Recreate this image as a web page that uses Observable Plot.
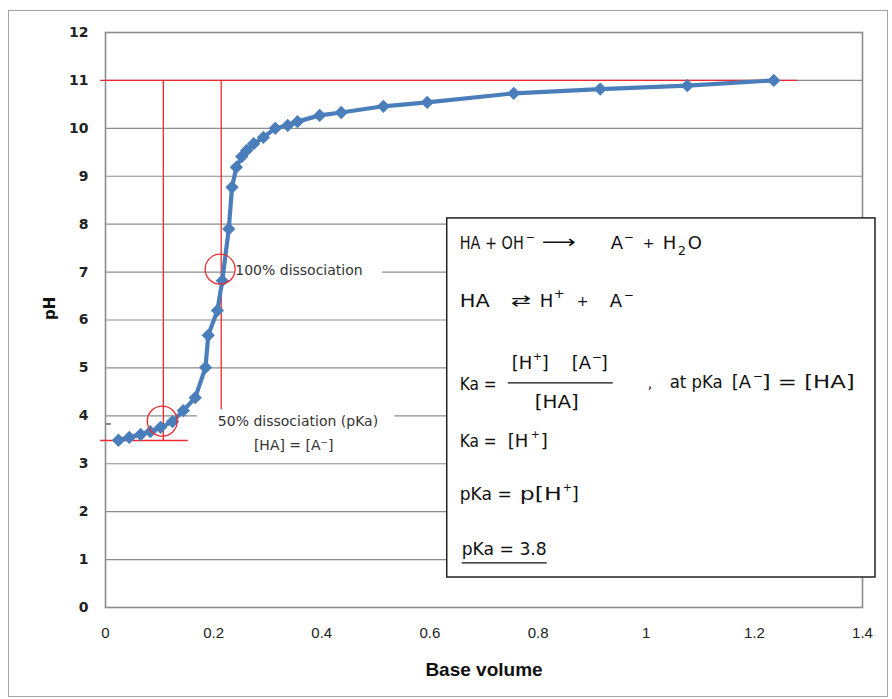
<!DOCTYPE html>
<html><head><meta charset="utf-8">
<script src="https://cdn.jsdelivr.net/npm/d3@7"></script>
<script src="https://cdn.jsdelivr.net/npm/@observablehq/plot@0.6"></script>
<style>
body{margin:0;background:#fff}
#wrap{position:relative;width:892px;height:699px}
#wrap svg{position:absolute;left:0;top:0}
#border{position:absolute;left:8px;top:10px;width:880px;height:687px;border:1.5px solid #a3a3a3;box-sizing:border-box;pointer-events:none}
</style></head>
<body>
<div id="wrap"><div id="border"></div></div>
<script>
// ---- data ----
const baseVolume = [0.024,0.044,0.065,0.083,0.102,0.124,0.144,0.166,0.185,0.190,0.207,0.216,0.228,0.234,0.242,0.252,0.261,0.274,0.292,0.314,0.337,0.355,0.396,0.436,0.514,0.595,0.755,0.915,1.076,1.236];
const pHValues   = [3.49,3.55,3.61,3.67,3.76,3.88,4.11,4.38,5.01,5.68,6.20,6.82,7.90,8.77,9.19,9.41,9.54,9.68,9.81,10.00,10.06,10.14,10.27,10.33,10.46,10.54,10.73,10.82,10.89,11.00];
const xTicks = [0,0.2,0.4,0.6,0.8,1,1.2,1.4];
const yTicks = [0,1,2,3,4,5,6,7,8,9,10,11,12];
const redHLines = [{y:11, x1:-0.009, x2:1.28},{y:3.485, x1:-0.009, x2:0.153}];
const redVLines = [{x:0.107, y1:3.485, y2:11},{x:0.214, y1:4.12, y2:11}];
const redCircles = [{x:0.105, y:3.89},{x:0.212, y:7.06}];
const labelBoxes = [{x1:0.239, x2:0.512, y1:6.75, y2:7.35},{x1:0.17, x2:0.535, y1:3.1, y2:4.12}];
const startLabels = [{x:0.24, y:7.04, text:"100% dissociation"}];
const middleLabels = [
  {x:0.356, y:3.88, text:"50% dissociation (pKa)"},
  {x:0.348, y:3.38, text:"[HA] = [A\u207B]"}
];
const eqBox = [{x1:0.632, x2:1.424, y1:0.626, y2:8.12}];
const pkaMark = [{y:3.83, x1:0.002, x2:0.011}];

const curve = baseVolume.map((v,i)=>({v, ph:pHValues[i]}));
const blue = "#4a7ebb", red = "#ee2a2f", grid = "#8c8c8c";

const plot = Plot.plot({
  width:892, height:699,
  marginLeft:105, marginRight:30, marginTop:32, marginBottom:92,
  x:{domain:[0,1.4]},
  y:{domain:[0,12]},
  style:{background:"transparent"},
  marks:[
    Plot.ruleY(yTicks.filter(d=>d>0 && d<12), {stroke:grid, strokeWidth:1.2}),
    Plot.frame({stroke:grid, strokeWidth:1.6}),
    Plot.ruleY(redHLines, {y:"y", x1:"x1", x2:"x2", stroke:red, strokeWidth:1.3}),
    Plot.ruleX(redVLines, {x:"x", y1:"y1", y2:"y2", stroke:red, strokeWidth:1.3}),
    Plot.ruleY(pkaMark, {y:"y", x1:"x1", x2:"x2", stroke:"#111", strokeWidth:1}),
    Plot.rect(labelBoxes, {x1:"x1", x2:"x2", y1:"y1", y2:"y2", fill:"white"}),
    Plot.rect(eqBox, {x1:"x1", x2:"x2", y1:"y1", y2:"y2", fill:"white", stroke:"#222", strokeWidth:1.5}),
    Plot.line(curve, {x:"v", y:"ph", stroke:blue, strokeWidth:4.2}),
    Plot.dot(curve, {x:"v", y:"ph", symbol:"diamond2", r:6, fill:blue}),
    Plot.dot(redCircles, {x:"x", y:"y", r:15, stroke:red, fill:"none", strokeWidth:1.3}),
    Plot.text(startLabels, {x:"x", y:"y", text:"text", textAnchor:"start", fontSize:14, fill:"#333", fontFamily:"DejaVu Sans"}),
    Plot.text(middleLabels, {x:"x", y:"y", text:"text", textAnchor:"middle", fontSize:14, fill:"#333", fontFamily:"DejaVu Sans"}),
    Plot.axisY({ticks:yTicks, tickSize:0, tickPadding:17, label:null, fontSize:14, fontWeight:"bold", fontFamily:"DejaVu Sans", fill:"#222"}),
    Plot.axisX({ticks:xTicks, tickSize:0, tickPadding:20, label:null, tickFormat:d=>String(d), fontSize:15, fontFamily:"Liberation Sans Narrow, Liberation Sans", fill:"#222"}),
    Plot.text(["Base volume"], {frameAnchor:"bottom", dy:68, fontSize:19, fontWeight:"bold", fontFamily:"Liberation Sans Narrow, Liberation Sans", fill:"#111"}),
    Plot.text(["pH"], {frameAnchor:"left", dx:-55, rotate:-90, fontSize:15, fontWeight:"bold", fontFamily:"DejaVu Sans", fill:"#111"})
  ]
});
document.getElementById("wrap").prepend(plot);

// ---- equations inside the box ----
const sx = plot.scale("x"), sy = plot.scale("y");
const bx = sx.apply(eqBox[0].x1), by = sy.apply(eqBox[0].y2);
const g = d3.select(plot).append("g").attr("font-family","DejaVu Sans").attr("fill","#111").attr("text-anchor","start");
// pieces: [dx from box left, dy from box top, text, size, textLength]
const pieces = [
  [13,31,"HA + OH",18,64],[79,23,"\u2212",11],[95,30,"\u27F6",18,34],[164,31,"A",18],[177,23,"\u2212",12],[196,30,"+",14],[216,31,"H",18],[231,37,"2",13],[241,31,"O",18],
  [13,89,"HA",18,30],[64,88,"\u21C4",16,20],[93,89,"H",18],[107,80,"+",13],[130,88,"+",14],[163,89,"A",18],[177,81,"\u2212",12],
  [13,172,"Ka =",18,37],[65,151,"[H",18],[86,142,"+",11],[95,151,"]",18],[125,151,"[A",18],[145,143,"\u2212",12],[154,151,"]",18],[88,190,"[HA]",18,44],
  [201,170,",",14],[223,170,"at pKa",17,53],[285,170,"[A",18],[306,162,"\u2212",12],[315,170,"] = [HA]",18,93],
  [13,229,"Ka =",18,37],[61,229,"[H",18],[84,220,"+",11],[94,229,"]",18],
  [13,282,"pKa =",18,52],[73,282,"p[H",18,42],[116,273,"+",11],[125,282,"]",18],
  [15,337,"pKa = 3.8",18,85]
];
pieces.forEach(([dx,dy,t,s,len])=>{
  const el = g.append("text").attr("x",bx+dx).attr("y",by+dy).attr("font-size",s).text(t);
  if(len) el.attr("textLength",len).attr("lengthAdjust","spacingAndGlyphs");
});
g.append("line").attr("x1",bx+61).attr("x2",bx+166).attr("y1",by+165).attr("y2",by+165).attr("stroke","#111").attr("stroke-width",1.3);
g.append("line").attr("x1",bx+15).attr("x2",bx+100).attr("y1",by+345).attr("y2",by+345).attr("stroke","#111").attr("stroke-width",1.3);
</script>
</body></html>
